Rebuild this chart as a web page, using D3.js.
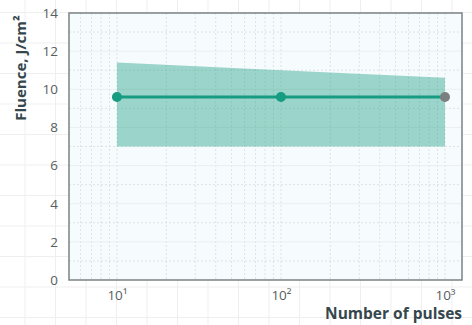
<!DOCTYPE html>
<html>
<head>
<meta charset="utf-8">
<script src="https://cdn.jsdelivr.net/npm/d3@7"></script>
<style>
  body { margin: 0; background: #fff; }
  text { font-family: "Open Sans", Lato, sans-serif; }
</style>
</head>
<body>
<div id="chart"></div>
<script>
var svgWidth = 472;
var svgHeight = 325;

var margin = { top: 13, right: 10, bottom: 45, left: 69 };
var width = svgWidth - margin.left - margin.right;
var height = svgHeight - margin.top - margin.bottom;

// data
var pulses = [10, 100, 1000];
var fluence = [9.6, 9.6, 9.6];
var fluenceHigh = [11.4, 11.0, 10.6];
var fluenceLow = [7.0, 7.0, 7.0];
var yTicks = [0, 2, 4, 6, 8, 10, 12, 14];
var xTicks = [10, 100, 1000];
var xTickLabels = ["10¹", "10²", "10³"];

var svg = d3.select("#chart")
  .append("svg")
  .attr("width", svgWidth)
  .attr("height", svgHeight);

// graph-paper background over the whole picture
var bg = svg.append("g");
for (var gx = 25; gx < svgWidth; gx += 30.5) {
  bg.append("line").attr("x1", gx).attr("x2", gx).attr("y1", 0).attr("y2", svgHeight)
    .attr("stroke", "#efefef").attr("stroke-width", 1);
}
for (var gy = 12.5; gy < svgHeight; gy += 30.5) {
  bg.append("line").attr("x1", 0).attr("x2", svgWidth).attr("y1", gy).attr("y2", gy)
    .attr("stroke", "#efefef").attr("stroke-width", 1);
}

var chartGroup = svg.append("g")
  .attr("transform", `translate(${margin.left}, ${margin.top})`);

var xScale = d3.scaleLog()
  .domain([5.1, 1270])
  .range([0, width]);

var yScale = d3.scaleLinear()
  .domain([0, 14])
  .range([height, 0]);

// plot background
chartGroup.append("rect")
  .attr("width", width)
  .attr("height", height)
  .attr("fill", "#f6fcfd");

// minor vertical grid (log 2..9)
var minorX = [];
[1, 10, 100, 1000].forEach(function (d) {
  for (var k = 1; k <= 9; k++) {
    var v = d * k;
    if (v > 5.1 && v < 1270) minorX.push(v);
  }
});
chartGroup.selectAll(".minor-x")
  .data(minorX)
  .enter()
  .append("line")
  .attr("x1", d => xScale(d))
  .attr("x2", d => xScale(d))
  .attr("y1", 0)
  .attr("y2", height)
  .attr("stroke", "#dde2e3")
  .attr("stroke-width", 1)
  .attr("stroke-dasharray", "2,2");

// horizontal grid
chartGroup.selectAll(".minor-y")
  .data([1, 3, 5, 7, 9, 11, 13])
  .enter()
  .append("line")
  .attr("x1", 0)
  .attr("x2", width)
  .attr("y1", d => yScale(d))
  .attr("y2", d => yScale(d))
  .attr("stroke", "#dde2e3")
  .attr("stroke-width", 1)
  .attr("stroke-dasharray", "2,2");

chartGroup.selectAll(".major-y")
  .data(yTicks.slice(1, -1))
  .enter()
  .append("line")
  .attr("x1", 0)
  .attr("x2", width)
  .attr("y1", d => yScale(d))
  .attr("y2", d => yScale(d))
  .attr("stroke", "#eaeeee")
  .attr("stroke-width", 1);

// band
var band = d3.area()
  .x((d, i) => xScale(pulses[i]))
  .y0((d, i) => yScale(fluenceLow[i]))
  .y1((d, i) => yScale(fluenceHigh[i]));

chartGroup.append("path")
  .datum(pulses)
  .attr("d", band)
  .attr("fill", "#2aa58b")
  .attr("fill-opacity", 0.45);

// line
var line = d3.line()
  .x((d, i) => xScale(pulses[i]))
  .y((d, i) => yScale(fluence[i]));

chartGroup.append("path")
  .datum(pulses)
  .attr("d", line)
  .attr("fill", "none")
  .attr("stroke", "#169c80")
  .attr("stroke-width", 3);

chartGroup.selectAll(".pt")
  .data(pulses)
  .enter()
  .append("circle")
  .attr("cx", d => xScale(d))
  .attr("cy", (d, i) => yScale(fluence[i]))
  .attr("r", 5)
  .attr("fill", (d, i) => i === pulses.length - 1 ? "#7a7f80" : "#169c80");

// frame
chartGroup.append("rect")
  .attr("width", width)
  .attr("height", height)
  .attr("fill", "none")
  .attr("stroke", "#7b8384")
  .attr("stroke-width", 1.5);

// axes
var leftAxis = d3.axisLeft(yScale)
  .tickValues(yTicks)
  .tickSize(0)
  .tickPadding(11);

var bottomAxis = d3.axisBottom(xScale)
  .tickValues(xTicks)
  .tickFormat((d, i) => xTickLabels[i])
  .tickSize(0)
  .tickPadding(10);

var yAxis = chartGroup.append("g").call(leftAxis);
var xAxis = chartGroup.append("g")
  .attr("transform", `translate(0, ${height})`)
  .call(bottomAxis);

[yAxis, xAxis].forEach(function (ax) {
  ax.select(".domain").remove();
  ax.selectAll("text")
    .attr("fill", "#595f61")
    .style("font-size", "13.5px");
});

// axis titles
svg.append("text")
  .attr("transform", "rotate(-90)")
  .attr("x", -68)
  .attr("y", 26)
  .attr("text-anchor", "middle")
  .attr("fill", "#35474c")
  .style("font-size", "15px")
  .style("font-weight", "bold")
  .text("Fluence, J/cm²");

svg.append("text")
  .attr("x", 462)
  .attr("y", 319)
  .attr("text-anchor", "end")
  .attr("fill", "#35474c")
  .style("font-size", "15.5px")
  .style("font-weight", "bold")
  .text("Number of pulses");
</script>
</body>
</html>
